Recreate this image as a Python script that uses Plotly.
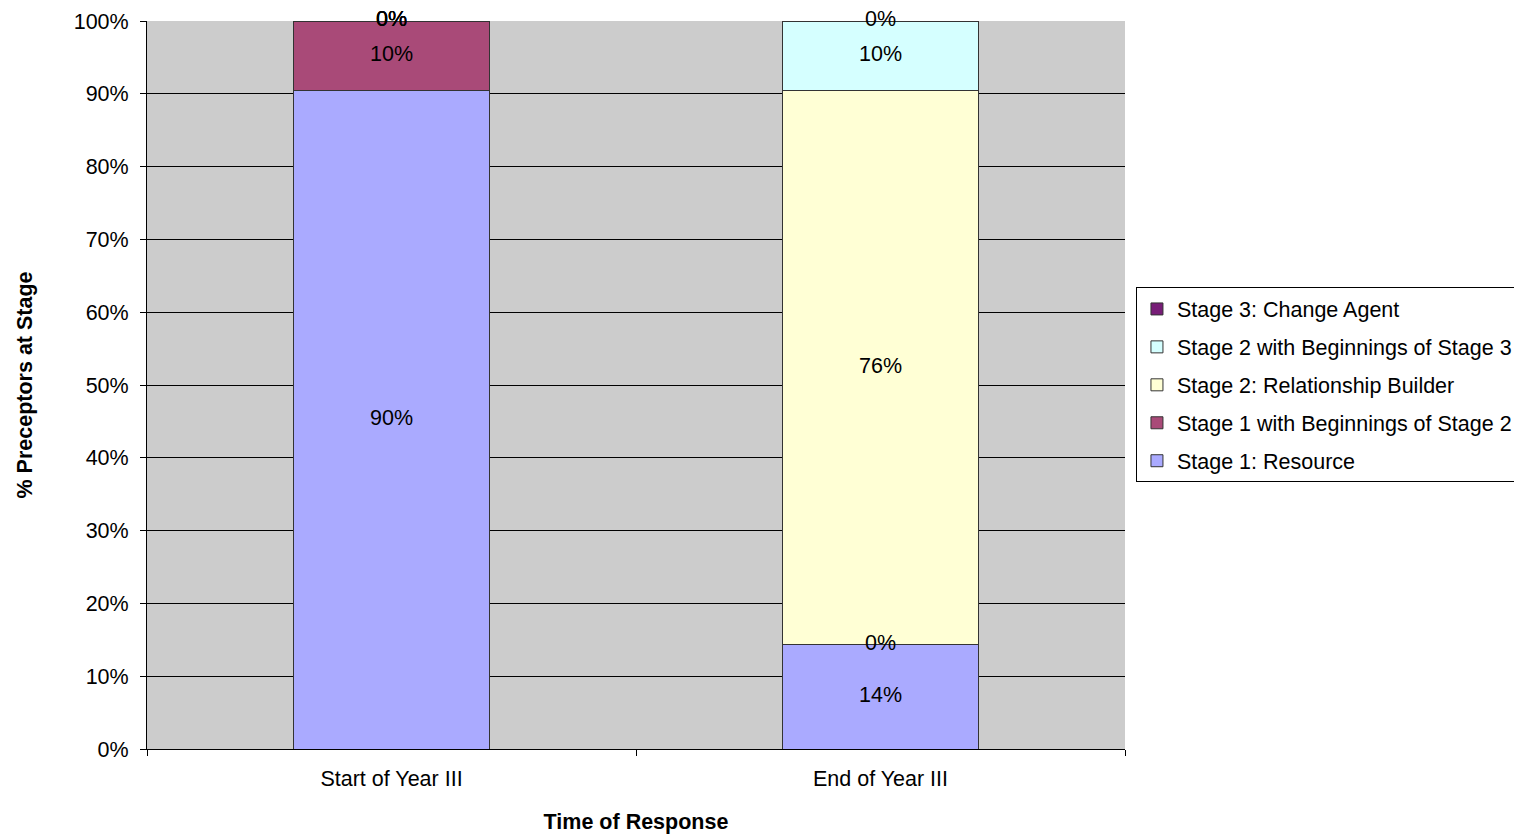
import plotly.graph_objects as go

categories = ["Start of Year III", "End of Year III"]
series_names = [
    "Stage 1: Resource",
    "Stage 1 with Beginnings of Stage 2",
    "Stage 2: Relationship Builder",
    "Stage 2 with Beginnings of Stage 3",
    "Stage 3: Change Agent",
]
stage1 = [0.9048, 0.1429]
stage1_b2 = [0.0952, 0.0]
stage2 = [0.0, 0.7619]
stage2_b3 = [0.0, 0.0952]
stage3 = [0.0, 0.0]
series_values = [stage1, stage1_b2, stage2, stage2_b3, stage3]
colors = ["#AAAAFF", "#A94A78", "#FFFFD5", "#D5FFFF", "#771D77"]
y_ticks = [0, 0.1, 0.2, 0.3, 0.4, 0.5, 0.6, 0.7, 0.8, 0.9, 1.0]

FONT = "Liberation Sans, Arial, sans-serif"
FS = 21.5

fig = go.Figure()
n = len(series_names)
for i, (name, vals, col) in enumerate(zip(series_names, series_values, colors)):
    fig.add_trace(go.Bar(
        x=categories, y=vals, name=name, width=0.4,
        marker=dict(color=col, line=dict(color="#333333", width=1)),
        legendgroup=name, legendrank=n - i, hoverinfo="skip",
    ))

# data labels at the middle of each segment
base = [0.0, 0.0]
for vals in series_values:
    mids = [b + v / 2 for b, v in zip(base, vals)]
    fig.add_trace(go.Scatter(
        x=categories, y=mids, mode="text",
        text=[f"{round(v * 100):.0f}%" for v in vals],
        textfont=dict(family=FONT, size=FS, color="black"),
        textposition="middle center", showlegend=False, hoverinfo="skip",
        cliponaxis=False,
    ))
    base = [b + v for b, v in zip(base, vals)]

fig.update_layout(
    width=1514, height=834,
    margin=dict(l=147, r=389, t=21, b=85, autoexpand=False),
    paper_bgcolor="white", plot_bgcolor="#CCCCCC",
    barmode="stack", bargap=0.6,
    font=dict(family=FONT, size=FS, color="black"),
    showlegend=True,
    legend=dict(
        x=1.0112, xanchor="left", y=0.634, yanchor="top",
        traceorder="grouped", tracegroupgap=7,
        bgcolor="white", bordercolor="black", borderwidth=1,
        font=dict(family=FONT, size=FS, color="black"),
    ),
    xaxis=dict(
        type="category", tickson="boundaries", ticks="outside", ticklen=6,
        tickcolor="black", showline=True, linecolor="black", linewidth=1,
        showgrid=False, ticklabelstandoff=10,
        title=dict(text="<b>Time of Response</b>", standoff=34,
                   font=dict(family=FONT, size=FS)),
    ),
    yaxis=dict(
        range=[0, 1], tickvals=y_ticks, tickformat=".0%", ticks="outside",
        ticklen=6, tickcolor="black", showline=True, linecolor="black",
        linewidth=1, showgrid=True, gridcolor="black", gridwidth=1,
        zeroline=False, ticklabelstandoff=7,
        title=dict(text="<b>% Preceptors at Stage</b>", standoff=35,
                   font=dict(family=FONT, size=FS)),
    ),
)

fig.write_html("out.html", config={"displayModeBar": False},
               post_script="document.body.style.margin='0px';")
